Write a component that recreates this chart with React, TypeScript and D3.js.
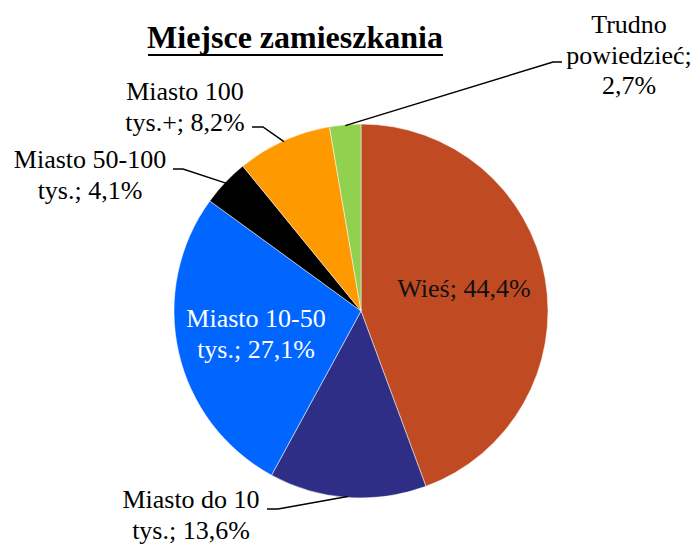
import { useLayoutEffect, useRef } from 'react';
import * as d3 from 'd3';

// Data
const categories = ['Wieś', 'Miasto do 10 tys.', 'Miasto 10-50 tys.', 'Miasto 50-100 tys.', 'Miasto 100 tys.+', 'Trudno powiedzieć'];
const values = [44.4, 13.6, 27.1, 4.1, 8.2, 2.7];
const labelLines = [
    ['Wieś; 44,4%'],
    ['Miasto do 10', 'tys.; 13,6%'],
    ['Miasto 10-50', 'tys.; 27,1%'],
    ['Miasto 50-100', 'tys.; 4,1%'],
    ['Miasto 100', 'tys.+; 8,2%'],
    ['Trudno', 'powiedzieć;', '2,7%'],
];
const colors = ['#C04B22', '#2E2E86', '#0066FF', '#000000', '#FF9900', '#92D050'];

// Label layout: text centre x, first baseline y, text colour, and the leader elbow (if any)
const labelLayout = [
    { x: 464, y: 297, fill: '#111', elbow: null },
    { x: 191, y: 508, fill: '#000', elbow: { x1: 267, x2: 278, y: 509 } },
    { x: 256, y: 327, fill: '#fff', elbow: null },
    { x: 90, y: 168, fill: '#000', elbow: { x1: 173, x2: 183, y: 169 } },
    { x: 185, y: 100, fill: '#000', elbow: { x1: 252, x2: 263, y: 127 } },
    { x: 629, y: 33, fill: '#000', elbow: { x1: 562, x2: 553, y: 62 } },
];

const W = 698;
const H = 545;
const FONT = "'Liberation Serif'";

export default function App() {
    const svgRef = useRef<SVGSVGElement | null>(null);
    const cx = 361;
    const cy = 311;
    const r = 187;

    const pie = d3.pie<number>().sort(null).value(d => d);
    const arcs = pie(values);
    const arc = d3.arc<d3.PieArcDatum<number>>().innerRadius(0).outerRadius(r);

    const leaders = arcs.map((a, i) => {
        const lay = labelLayout[i];
        if (!lay.elbow) return null;
        const mid = (a.startAngle + a.endAngle) / 2;
        const path = d3.path();
        path.moveTo(lay.elbow.x1, lay.elbow.y);
        path.lineTo(lay.elbow.x2, lay.elbow.y);
        path.lineTo(cx + r * 0.995 * Math.sin(mid), cy - r * 0.995 * Math.cos(mid));
        return path.toString();
    });

    // centre each text line by measuring it (start-anchored)
    useLayoutEffect(() => {
        if (!svgRef.current) return;
        d3.select(svgRef.current)
            .selectAll<SVGTextContentElement, unknown>('[data-cx]')
            .each(function () {
                const c = +(this.getAttribute('data-cx') || 0);
                const len = this.getComputedTextLength();
                if (len > 0) this.setAttribute('x', String(c - len / 2));
            });
    }, []);

    const guess = (s: string, size: number) => s.length * size * 0.45;

    return (
        <svg ref={svgRef} width={W} height={H} style={{ position: 'absolute', left: 0, top: 0 }}>
            <g transform={`translate(${cx},${cy})`}>
                {arcs.map((a, i) => (
                    <path key={categories[i]} d={arc(a) || ''} fill={colors[i]} stroke="#fff" strokeWidth={0.5} />
                ))}
            </g>

            <text
                data-cx={295}
                x={295 - guess('Miejsce zamieszkania', 32) / 2}
                y={48}
                style={{ fontFamily: FONT, fontSize: 32, fontWeight: 700 }}
            >
                Miejsce zamieszkania
            </text>
            <rect x={148} y={54} width={295} height={2} fill="#000" />

            {leaders.map((d, i) => d && (
                <path key={'l' + i} d={d} fill="none" stroke="#000" strokeWidth={1.5} />
            ))}

            {labelLines.map((lines, i) => {
                const lay = labelLayout[i];
                return lines.map((line, j) => (
                    <text
                        key={'t' + i + '-' + j}
                        data-cx={lay.x}
                        x={lay.x - guess(line, 26) / 2}
                        y={lay.y + j * 30.5}
                        style={{ fontFamily: FONT, fontSize: 26, fill: lay.fill }}
                    >
                        {line}
                    </text>
                ));
            })}
        </svg>
    );
}
